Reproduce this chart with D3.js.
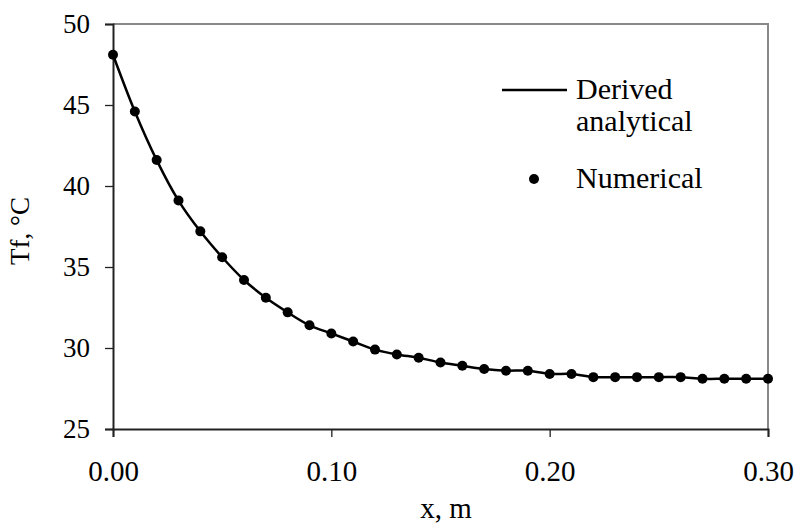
<!DOCTYPE html>
<html>
<head>
<meta charset="utf-8">
<script src="https://cdn.jsdelivr.net/npm/d3@7"></script>
<style>
  body { margin: 0; background: #fff; }
</style>
</head>
<body>
<div id="container"></div>
<script>
// data
const xValues = [0.00, 0.01, 0.02, 0.03, 0.04, 0.05, 0.06, 0.07, 0.08, 0.09,
  0.10, 0.11, 0.12, 0.13, 0.14, 0.15, 0.16, 0.17, 0.18, 0.19,
  0.20, 0.21, 0.22, 0.23, 0.24, 0.25, 0.26, 0.27, 0.28, 0.29, 0.30];
const numerical = [48.1, 44.6, 41.6, 39.1, 37.2, 35.6, 34.2, 33.1, 32.2, 31.4,
  30.9, 30.4, 29.9, 29.6, 29.4, 29.1, 28.9, 28.7, 28.6, 28.6,
  28.4, 28.4, 28.2, 28.2, 28.2, 28.2, 28.2, 28.1, 28.1, 28.1, 28.1];
const analytical = [48.1, 44.6, 41.6, 39.1, 37.2, 35.6, 34.2, 33.1, 32.2, 31.4,
  30.9, 30.4, 29.9, 29.6, 29.4, 29.1, 28.9, 28.7, 28.6, 28.6,
  28.4, 28.4, 28.2, 28.2, 28.2, 28.2, 28.2, 28.1, 28.1, 28.1, 28.1];
const xTicks = [0, 0.1, 0.2, 0.3];
const yTicks = [25, 30, 35, 40, 45, 50];
const legendLabels = ['Derived', 'analytical', 'Numerical'];

const serif = '"Liberation Serif", "Times New Roman", serif';
const width = 798, height = 526;
const plotLeft = 113, plotRight = 768, plotTop = 24, plotBottom = 429;

const svg = d3.select('#container').append('svg')
  .attr('width', width)
  .attr('height', height)
  .style('font-family', serif);

const x = d3.scaleLinear().domain([0, 0.3]).range([plotLeft, plotRight]);
const y = d3.scaleLinear().domain([25, 50]).range([plotBottom, plotTop]);

// frame: top and right grey
svg.append('path')
  .attr('d', `M${plotLeft},${plotTop}H${plotRight}V${plotBottom}`)
  .attr('fill', 'none')
  .attr('stroke', '#888')
  .attr('stroke-width', 2);

// y axis
const yAxis = svg.append('g')
  .attr('transform', `translate(${plotLeft},0)`)
  .call(d3.axisLeft(y).tickValues(yTicks).tickSizeOuter(0).tickSize(8).tickPadding(15).tickFormat(d3.format('d')));
yAxis.select('.domain').attr('stroke', '#222').attr('stroke-width', 2);
yAxis.selectAll('.tick line').attr('stroke', '#222').attr('stroke-width', 1.3);
yAxis.selectAll('text').style('font-size', '27px').attr('x', -23);

// x axis
const xAxis = svg.append('g')
  .attr('transform', `translate(0,${plotBottom})`)
  .call(d3.axisBottom(x).tickValues(xTicks).tickSizeOuter(0).tickSize(8).tickFormat(d3.format('.2f')));
xAxis.select('.domain').attr('stroke', '#222').attr('stroke-width', 2);
xAxis.selectAll('.tick line').attr('stroke', '#222').attr('stroke-width', 1.3);
xAxis.selectAll('text').style('font-size', '29px').attr('y', 52).attr('dy', 0);

// axis titles
svg.append('text')
  .attr('x', 446).attr('y', 518)
  .attr('text-anchor', 'middle')
  .style('font-size', '29px')
  .text('x, m');

svg.append('text')
  .attr('transform', 'translate(29,231) rotate(-90)')
  .attr('text-anchor', 'middle')
  .style('font-size', '27px')
  .text('Tf, °C');

// analytical curve
const line = d3.line()
  .x((d, i) => x(xValues[i]))
  .y(d => y(d))
  .curve(d3.curveCatmullRom);

svg.append('path')
  .datum(analytical)
  .attr('d', line)
  .attr('fill', 'none')
  .attr('stroke', '#000')
  .attr('stroke-width', 2.5);

// numerical points
svg.selectAll('circle.pt')
  .data(numerical)
  .enter()
  .append('circle')
  .attr('class', 'pt')
  .attr('cx', (d, i) => x(xValues[i]))
  .attr('cy', d => y(d))
  .attr('r', 5)
  .attr('fill', '#000');

// legend
svg.append('line')
  .attr('x1', 502).attr('x2', 567)
  .attr('y1', 90).attr('y2', 90)
  .attr('stroke', '#000')
  .attr('stroke-width', 2.5);

svg.append('circle')
  .attr('cx', 534).attr('cy', 179)
  .attr('r', 5)
  .attr('fill', '#000');

svg.selectAll('text.legend')
  .data(legendLabels)
  .enter()
  .append('text')
  .attr('class', 'legend')
  .attr('x', 576)
  .attr('y', (d, i) => [99, 131, 188][i])
  .style('font-size', '30px')
  .text(d => d);

// axis groups set their own family, so force the serif one
svg.selectAll('text').style('font-family', serif).attr('fill', '#000');
</script>
</body>
</html>
